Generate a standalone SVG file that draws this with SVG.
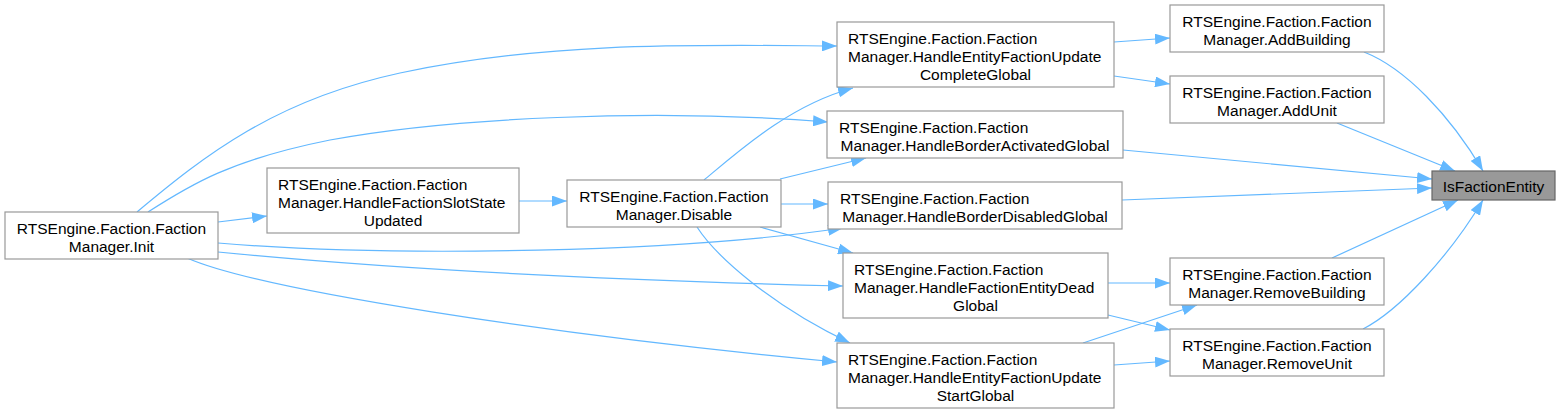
<svg xmlns="http://www.w3.org/2000/svg" width="1560" height="413" viewBox="0 0 1560 413">
<style>
.n rect{fill:#ffffff;stroke:#999999;stroke-width:1.2}
.hl rect{fill:#999999;stroke:#666666;stroke-width:1.2}
text{font-family:"Liberation Sans",Arial,sans-serif;font-size:15.5px;fill:#000000}
.c{text-anchor:middle}
.e path{fill:none;stroke:#63b8ff;stroke-width:1.2;marker-end:url(#ah)}
</style>
<defs>
<marker id="ah" markerUnits="userSpaceOnUse" markerWidth="15" markerHeight="11" refX="15" refY="5.5" orient="auto">
<path d="M0,0 L15,5.5 L0,11 z" fill="#63b8ff" stroke="none"/>
</marker>
</defs>
<rect width="1560" height="413" fill="#ffffff"/>
<g class="e" id="edges">
<path d="M1364,52 C1405,68 1450,115 1483,171"/>
<path d="M1337,123 L1455,171"/>
<path d="M1123,150 L1432,179"/>
<path d="M1122,200 L1432,188"/>
<path d="M1332,258 L1458,200"/>
<path d="M1363,329 C1400,310 1450,255 1483,200"/>
<path d="M1114,42 L1170,38"/>
<path d="M1114,76 L1170,84"/>
<path d="M1108,283 L1170,283"/>
<path d="M1108,315 L1170,330"/>
<path d="M1083,343 L1197,305"/>
<path d="M1114,365 L1170,361"/>
<path d="M704,180 C740,150 790,105 853,88"/>
<path d="M780,179 L866,158"/>
<path d="M781,204 L828,204"/>
<path d="M760,227 L853,253"/>
<path d="M697,227 C715,255 770,305 850,343"/>
<path d="M519,201 L567,201"/>
<path d="M218,222 L267,216"/>
<path d="M137,212 C205,155 275,100 400,73 C550,41 700,45 837,46"/>
<path d="M148,212 C190,185 230,160 330,140 C450,118 650,108 828,122"/>
<path d="M218,243 C400,258 680,252 843,228"/>
<path d="M218,252 C400,270 600,280 843,286"/>
<path d="M187,258 C260,290 550,335 837,362"/>
</g>
<g id="IsFactionEntity" class="hl">
<rect x="1432" y="171" width="123" height="29"/>
<text class="c" x="1493.5" y="191.5">IsFactionEntity</text>
</g>
<g id="AddBuilding" class="n">
<rect x="1170" y="5" width="214" height="47"/>
<text class="c" x="1277" y="27">RTSEngine.Faction.Faction</text>
<text class="c" x="1277" y="45">Manager.AddBuilding</text>
</g>
<g id="AddUnit" class="n">
<rect x="1170" y="76" width="214" height="47"/>
<text class="c" x="1277" y="98">RTSEngine.Faction.Faction</text>
<text class="c" x="1277" y="116">Manager.AddUnit</text>
</g>
<g id="RemoveBuilding" class="n">
<rect x="1170" y="258" width="214" height="47"/>
<text class="c" x="1277" y="280">RTSEngine.Faction.Faction</text>
<text class="c" x="1277" y="298">Manager.RemoveBuilding</text>
</g>
<g id="RemoveUnit" class="n">
<rect x="1170" y="329" width="214" height="47"/>
<text class="c" x="1277" y="351">RTSEngine.Faction.Faction</text>
<text class="c" x="1277" y="369">Manager.RemoveUnit</text>
</g>
<g id="HandleEntityFactionUpdateCompleteGlobal" class="n">
<rect x="837" y="22" width="277" height="65"/>
<text x="848" y="44">RTSEngine.Faction.Faction</text>
<text x="848" y="62">Manager.HandleEntityFactionUpdate</text>
<text class="c" x="975.5" y="80">CompleteGlobal</text>
</g>
<g id="HandleBorderActivatedGlobal" class="n">
<rect x="827" y="111" width="296" height="47"/>
<text x="839" y="133">RTSEngine.Faction.Faction</text>
<text class="c" x="975" y="151">Manager.HandleBorderActivatedGlobal</text>
</g>
<g id="HandleBorderDisabledGlobal" class="n">
<rect x="828" y="182" width="294" height="47"/>
<text x="840" y="204">RTSEngine.Faction.Faction</text>
<text class="c" x="975" y="222">Manager.HandleBorderDisabledGlobal</text>
</g>
<g id="HandleFactionEntityDeadGlobal" class="n">
<rect x="843" y="253" width="265" height="65"/>
<text x="854" y="275">RTSEngine.Faction.Faction</text>
<text x="854" y="293">Manager.HandleFactionEntityDead</text>
<text class="c" x="975.5" y="311">Global</text>
</g>
<g id="HandleEntityFactionUpdateStartGlobal" class="n">
<rect x="837" y="343" width="277" height="65"/>
<text x="848" y="365">RTSEngine.Faction.Faction</text>
<text x="848" y="383">Manager.HandleEntityFactionUpdate</text>
<text class="c" x="975.5" y="401">StartGlobal</text>
</g>
<g id="Disable" class="n">
<rect x="567" y="180" width="214" height="47"/>
<text class="c" x="674" y="202">RTSEngine.Faction.Faction</text>
<text class="c" x="674" y="220">Manager.Disable</text>
</g>
<g id="HandleFactionSlotStateUpdated" class="n">
<rect x="267" y="168" width="252" height="65"/>
<text x="278" y="190">RTSEngine.Faction.Faction</text>
<text x="278" y="208">Manager.HandleFactionSlotState</text>
<text class="c" x="393" y="226">Updated</text>
</g>
<g id="Init" class="n">
<rect x="5" y="212" width="213" height="47"/>
<text class="c" x="111.5" y="234">RTSEngine.Faction.Faction</text>
<text class="c" x="111.5" y="252">Manager.Init</text>
</g>
</svg>
